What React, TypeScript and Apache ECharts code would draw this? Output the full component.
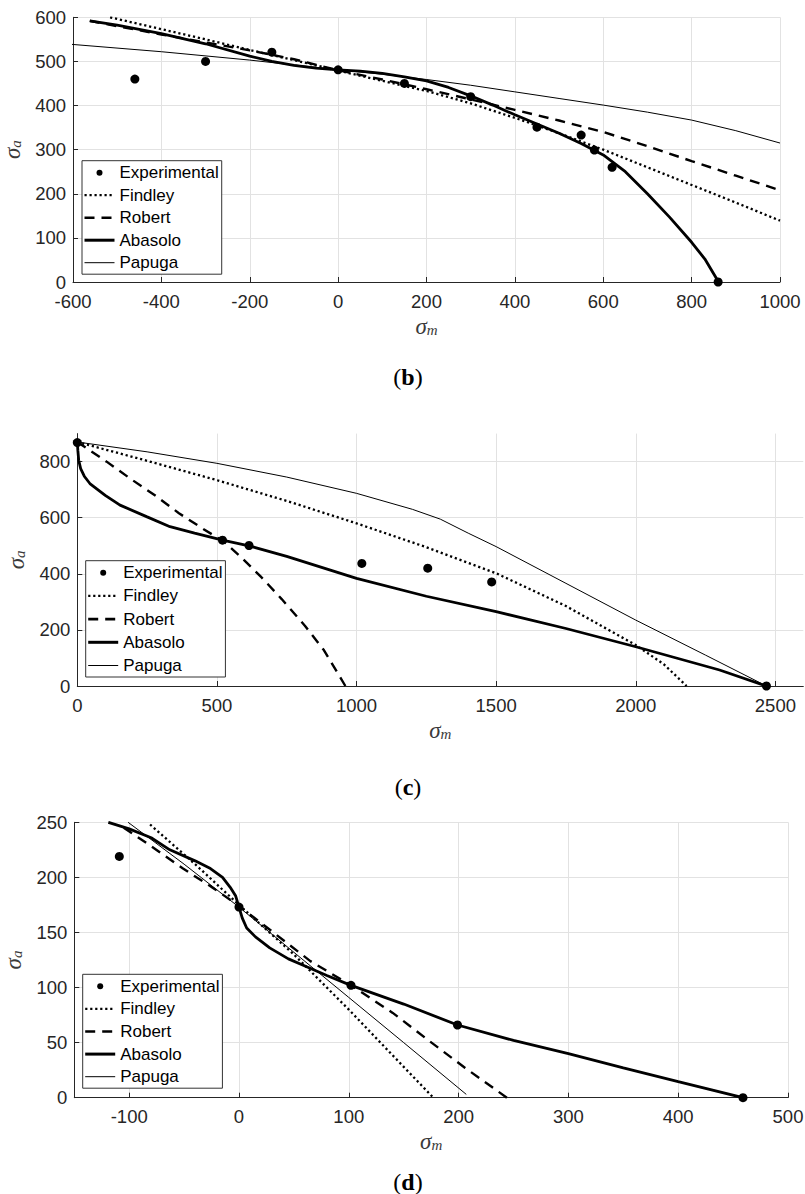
import { useEffect, useRef } from 'react';
import * as echarts from 'echarts';

// ---------------- DATA ----------------
const seriesNames = ['Experimental', 'Findley', 'Robert', 'Abasolo', 'Papuga'];

// Panel (b)
const bTicksX = [-600, -400, -200, 0, 200, 400, 600, 800, 1000];
const bTicksY = [0, 100, 200, 300, 400, 500, 600];
const bExpX = [-460, -300, -150, 0, 150, 300, 450, 550, 580, 620, 860];
const bExpY = [460, 500, 521, 481, 450, 420, 351, 333, 299, 260, 0];
const bFindleyX = [-516, -400, -300, -200, -100, 0, 100, 200, 300, 400, 450, 500, 600, 700, 800, 900, 1000];
const bFindleyY = [600, 573, 550, 526, 503, 479, 456, 433, 405, 372, 355, 337, 300, 260, 220, 180, 139];
const bRobertX = [-562, -500, -400, -300, -200, -100, 0, 100, 200, 300, 400, 500, 600, 700, 800, 900, 1000];
const bRobertY = [592, 580, 561, 543, 525, 505, 480, 459, 437, 414, 390, 366, 340, 308, 274, 241, 208];
const bAbasoloX = [-562, -500, -400, -300, -200, -150, -100, -50, 0, 50, 100, 150, 200, 250, 300, 350, 400, 450, 500, 550, 600, 650, 700, 750, 800, 830, 861];
const bAbasoloY = [592, 582, 563, 540, 512, 500, 491, 485, 481, 478, 473, 465, 456, 441, 422, 401, 379, 358, 337, 314, 288, 250, 200, 147, 90, 52, 0];
const bPapugaX = [-607, -400, -200, 0, 100, 200, 300, 400, 500, 600, 700, 800, 900, 1000];
const bPapugaY = [539, 522, 503, 481, 471, 459, 446, 431, 416, 401, 385, 367, 343, 315];

// Panel (c)
const cTicksX = [0, 500, 1000, 1500, 2000, 2500];
const cTicksY = [0, 200, 400, 600, 800];
const cExpX = [0, 520, 615, 1019, 1255, 1484, 2468];
const cExpY = [868, 520, 501, 437, 420, 371, 0];
const cFindleyX = [0, 250, 500, 750, 1000, 1250, 1500, 1750, 2000, 2100, 2182];
const cFindleyY = [870, 803, 734, 660, 580, 495, 402, 285, 146, 78, 0];
const cRobertX = [0, 105, 189, 281, 364, 451, 525, 585, 660, 732, 815, 883, 960];
const cRobertY = [870, 800, 740, 678, 616, 560, 515, 461, 387, 310, 215, 128, 0];
const cAbasoloX = [0, 2, 5, 12, 25, 45, 100, 153, 250, 332, 420, 520, 615, 750, 1000, 1250, 1500, 1750, 2000, 2300, 2468];
const cAbasoloY = [870, 840, 805, 775, 748, 722, 680, 645, 603, 568, 545, 520, 500, 462, 384, 320, 265, 205, 140, 57, 0];
const cPapugaX = [0, 250, 500, 750, 1000, 1200, 1300, 1400, 1500, 1750, 2000, 2250, 2468];
const cPapugaY = [870, 835, 794, 745, 687, 630, 595, 545, 497, 366, 235, 110, 0];

// Panel (d)
const dTicksX = [-100, 0, 100, 200, 300, 400, 500];
const dTicksY = [0, 50, 100, 150, 200, 250];
const dExpX = [-109, 0, 102, 199, 459];
const dExpY = [219, 173, 102, 66, 0];
const dFindleyX = [-81, -40, 0, 50, 100, 150, 177];
const dFindleyY = [248, 212, 175, 130, 80, 28, 0];
const dRobertX = [-105, -81, -51, -23, 0, 30, 65, 102, 140, 174, 206, 244];
const dRobertY = [245, 229, 208, 190, 174, 151, 124, 102, 77, 51, 27, 0];
const dAbasoloX = [-119, -100, -80, -63, -40, -26, -15, -8, -3, 0, 3, 7, 15, 28, 45, 59, 80, 102, 150, 199, 250, 300, 350, 400, 459];
const dAbasoloY = [250, 244, 236, 225, 215, 208, 200, 191, 183, 173, 163, 154, 146, 136, 126, 120, 111, 102, 85, 66, 52, 40, 27, 14.5, 0];
const dPapugaX = [-101, -50, 0, 50, 100, 150, 207];
const dPapugaY = [250, 212, 173, 132, 91, 50, 3];

// ---------------- LAYOUT / STYLE ----------------
const AXIS = '#262626';
const GRIDC = '#e2e2e2';
const SANS = 'Liberation Sans, Arial, Helvetica, sans-serif';
const SERIF = 'Liberation Serif, DejaVu Serif, serif';

const zip = (xs: number[], ys: number[]) => xs.map((x, i) => [x, ys[i]]);

const panels = [
  {
    grid: { left: 73, top: 17.3, width: 707, height: 264.7 },
    xr: [-600, 1000], yr: [0, 600], xt: bTicksX, yt: bTicksY,
    exp: zip(bExpX, bExpY),
    lines: {
      Findley: zip(bFindleyX, bFindleyY),
      Robert: zip(bRobertX, bRobertY),
      Abasolo: zip(bAbasoloX, bAbasoloY),
      Papuga: zip(bPapugaX, bPapugaY),
    },
    legend: { left: 82, top: 160.7, itemGap: 2.5 },
    caption: { letter: 'b', y: 377 },
  },
  {
    grid: { left: 77.3, top: 433.6, width: 726, height: 252.4 },
    xr: [0, 2600], yr: [0, 900], xt: cTicksX, yt: cTicksY,
    exp: zip(cExpX, cExpY),
    lines: {
      Findley: zip(cFindleyX, cFindleyY),
      Robert: zip(cRobertX, cRobertY),
      Abasolo: zip(cAbasoloX, cAbasoloY),
      Papuga: zip(cPapugaX, cPapugaY),
    },
    legend: { left: 85.7, top: 560.7, itemGap: 3.2 },
    caption: { letter: 'c', y: 787 },
  },
  {
    grid: { left: 74.3, top: 822.3, width: 713.7, height: 275.4 },
    xr: [-150, 500], yr: [0, 250], xt: dTicksX, yt: dTicksY,
    exp: zip(dExpX, dExpY),
    lines: {
      Findley: zip(dFindleyX, dFindleyY),
      Robert: zip(dRobertX, dRobertY),
      Abasolo: zip(dAbasoloX, dAbasoloY),
      Papuga: zip(dPapugaX, dPapugaY),
    },
    legend: { left: 82.7, top: 974.3, itemGap: 2.6 },
    caption: { letter: 'd', y: 1182 },
  },
];

const lineStyles: Record<string, any> = {
  Findley: { color: '#000', width: 2.3, type: [2.2, 2.8] },
  Robert: { color: '#000', width: 2.4, type: [10, 7] },
  Abasolo: { color: '#000', width: 2.8, type: 'solid' },
  Papuga: { color: '#000', width: 1, type: 'solid' },
};

const legendLineWidth: Record<string, number> = { Findley: 2.3, Robert: 2.6, Abasolo: 3, Papuga: 1 };

const dotIcon = 'path://M0,0M30,14M12,7A3,3 0 1 1 18,7A3,3 0 1 1 12,7Z';

const axisNameRich = {
  s: { fontFamily: SERIF, fontStyle: 'italic', fontSize: 23, color: '#3a3a3a', lineHeight: 22, verticalAlign: 'middle' },
  sub: { fontFamily: SERIF, fontStyle: 'italic', fontSize: 15, color: '#3a3a3a', lineHeight: 22, verticalAlign: 'bottom' },
};

const fmt = (v: number) => String(v);

function buildOption() {
  const grid: any[] = [];
  const xAxis: any[] = [];
  const yAxis: any[] = [];
  const series: any[] = [];
  const legend: any[] = [];
  const graphic: any[] = [];

  panels.forEach((p, i) => {
    grid.push({ ...p.grid, containLabel: false, outerBoundsMode: 'none' });
    xAxis.push({
      type: 'value', gridIndex: i, min: p.xr[0], max: p.xr[1],
      axisLine: { show: true, onZero: false, lineStyle: { color: AXIS, width: 1 } },
      axisTick: { show: true, inside: true, length: 5, customValues: p.xt, lineStyle: { color: AXIS } },
      axisLabel: { customValues: p.xt, formatter: fmt, fontSize: 18.5, lineHeight: 16, fontFamily: SANS, color: AXIS, margin: 11 },
      splitLine: { show: true, lineStyle: { color: GRIDC, width: 1 } },
      name: '{s|σ}{sub|m}', nameLocation: 'middle', nameGap: 33,
      nameTextStyle: { rich: axisNameRich },
    });
    yAxis.push({
      type: 'value', gridIndex: i, min: p.yr[0], max: p.yr[1],
      axisLine: { show: true, onZero: false, lineStyle: { color: AXIS, width: 1 } },
      axisTick: { show: true, inside: true, length: 5, customValues: p.yt, lineStyle: { color: AXIS } },
      axisLabel: { customValues: p.yt, formatter: fmt, fontSize: 18.5, lineHeight: 16, fontFamily: SANS, color: AXIS, margin: 7 },
      splitLine: { show: true, lineStyle: { color: GRIDC, width: 1 } },
      name: '{s|σ}{sub|a}', nameLocation: 'middle', nameGap: 50,
      nameTextStyle: { rich: axisNameRich },
    });
    series.push({
      name: 'Experimental', type: 'scatter', xAxisIndex: i, yAxisIndex: i,
      data: p.exp, symbol: 'circle', symbolSize: 9, clip: false,
      itemStyle: { color: '#000', opacity: 1 }, z: 3,
    });
    (['Findley', 'Robert', 'Abasolo', 'Papuga'] as const).forEach((n) => {
      series.push({
        name: n, type: 'line', xAxisIndex: i, yAxisIndex: i,
        data: (p.lines as any)[n], symbol: 'none', showSymbol: false,
        smooth: false,
        lineStyle: lineStyles[n], itemStyle: { color: '#000' }, z: 4,
      });
    });
    legend.push({
      orient: 'vertical', left: p.legend.left, top: p.legend.top,
      itemWidth: 30, itemHeight: 14, itemGap: p.legend.itemGap,
      padding: [2, 3, 1.5, 1],
      borderColor: '#333', borderWidth: 1, backgroundColor: '#fff',
      selectedMode: false,
      textStyle: { fontSize: 17, fontFamily: SANS, color: '#000', lineHeight: 20 },
      data: seriesNames.map((n) =>
        n === 'Experimental'
          ? { name: n, icon: dotIcon, itemStyle: { color: '#000', opacity: 1 } }
          : { name: n, itemStyle: { opacity: 0 }, lineStyle: { width: legendLineWidth[n] } }
      ),
    });
    graphic.push({
      type: 'text', x: 408, y: p.caption.y, z: 10,
      style: {
        text: `{p|(}{b|${p.caption.letter}}{p|)}`,
        align: 'center', verticalAlign: 'middle',
        rich: {
          p: { fontFamily: SERIF, fontSize: 24, fill: '#000' },
          b: { fontFamily: SERIF, fontSize: 24, fontWeight: 'bold', fill: '#000' },
        },
      },
    });
  });

  return { animation: false, backgroundColor: '#fff', grid, xAxis, yAxis, series, legend, graphic };
}

export default function App() {
  const ref = useRef<HTMLDivElement>(null);
  useEffect(() => {
    if (!ref.current) return;
    const chart = echarts.init(ref.current, undefined, { renderer: 'svg' });
    chart.setOption(buildOption() as any);
    return () => chart.dispose();
  }, []);
  return (
    <div
      ref={ref}
      style={{ position: 'absolute', left: 0, top: 0, width: 805, height: 1194, background: '#fff' }}
    />
  );
}
